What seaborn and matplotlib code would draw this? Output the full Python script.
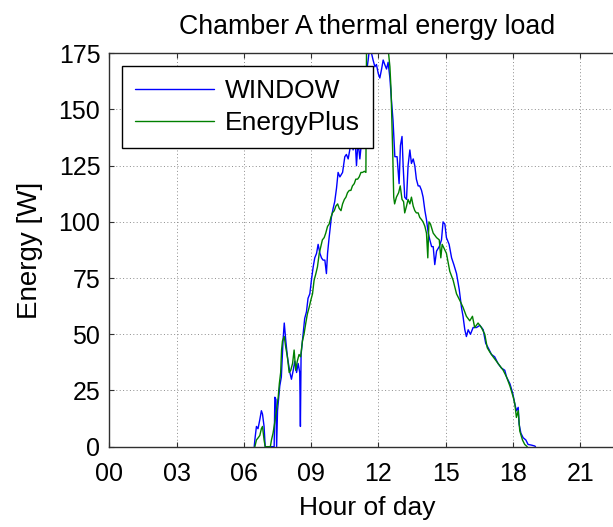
import numpy as np
import pandas as pd
import matplotlib
matplotlib.use("Agg")
import matplotlib.pyplot as plt
import seaborn as sns

# ---- data ----
window_hour = [6.46, 6.50, 6.56, 6.63, 6.71, 6.78, 6.83, 6.90, 6.95, 7.35, 7.38, 7.43, 7.46, 7.50,
               7.60, 7.67, 7.75, 7.80, 7.87, 7.94, 8.05, 8.12, 8.20, 8.27, 8.35, 8.42, 8.49, 8.52,
               8.55, 8.64, 8.71, 8.79, 8.86, 8.94, 9.01, 9.09, 9.16, 9.24, 9.31, 9.39, 9.46, 9.53,
               9.61, 9.68, 9.73, 9.80, 9.90, 9.98, 10.05, 10.13, 10.20, 10.28, 10.40, 10.50, 10.57,
               10.65, 10.72, 10.80, 10.87, 10.95, 11.02, 11.09, 11.17, 11.24, 11.32, 11.39, 11.46,
               11.54, 11.61, 11.69, 11.76, 11.84, 11.91, 11.99, 12.06, 12.14, 12.21, 12.28, 12.36,
               12.43, 12.51, 12.58, 12.65, 12.73, 12.83, 12.92, 12.98, 13.05, 13.10, 13.17, 13.25,
               13.32, 13.40, 13.47, 13.55, 13.62, 13.69, 13.77, 13.84, 13.92, 13.99, 14.07, 14.14,
               14.22, 14.29, 14.37, 14.44, 14.51, 14.59, 14.71, 14.81, 14.88, 14.96, 15.03, 15.15,
               15.26, 15.36, 15.48, 15.60, 15.70, 15.77, 15.85, 15.92, 16.00, 16.10, 16.22, 16.37,
               16.52, 16.67, 16.78, 16.89, 17.04, 17.18, 17.33, 17.48, 17.63, 17.71, 17.86, 17.98,
               18.08, 18.15, 18.23, 18.27, 18.35, 18.45, 18.57, 18.67, 18.82, 18.97, 19.00]
window_load = [0, 4, 9, 8, 12, 16, 14.5, 9, 0, 0, 22, 21, 0, 16,
               27, 31, 48, 55, 47, 40, 33, 30, 34, 38, 33, 37, 33, 9,
               41, 50, 57, 60, 66, 68, 74, 80, 84, 86, 90, 86, 84, 83,
               83, 77, 86, 93, 102, 106, 109, 115, 122, 120, 122, 129, 130,
               128, 132, 138, 132, 139, 125, 136, 128, 135, 144, 151, 166,
               172, 178, 175, 172, 169, 170, 166, 164, 168, 172, 170, 168,
               171, 164, 154, 145, 129, 129, 117, 134, 138, 125, 111, 110,
               125, 132, 126, 128, 125, 119, 116, 116, 114, 111, 105, 101,
               95, 92, 89, 89, 81, 87, 89, 92, 100, 99, 93, 90,
               84, 81, 77, 70, 62, 58, 52, 49, 52, 50, 53, 53,
               54, 52, 46, 44, 41, 40, 37, 35, 34, 31, 28, 24,
               19, 16, 17.5, 10, 6, 4, 3, 1, 0.7, 0.3, 0]

eplus_hour = [6.49, 6.56, 6.64, 6.71, 6.78, 6.83, 6.90, 6.95, 7.18, 7.23, 7.30, 7.38, 7.45, 7.53,
              7.58, 7.64, 7.68, 7.72, 7.80, 7.87, 7.94, 8.02, 8.09, 8.17, 8.24, 8.31, 8.38, 8.46,
              8.53, 8.61, 8.68, 8.76, 8.83, 8.91, 8.98, 9.06, 9.13, 9.21, 9.28, 9.36, 9.43, 9.50,
              9.58, 9.65, 9.73, 9.80, 9.88, 9.95, 10.03, 10.10, 10.18, 10.25, 10.33, 10.40, 10.48,
              10.55, 10.62, 10.70, 10.77, 10.84, 10.92, 10.99, 11.07, 11.14, 11.22, 11.29, 11.37,
              11.44, 11.47, 12.40, 12.45, 12.51, 12.56, 12.60, 12.64, 12.68, 12.72, 12.80, 12.90,
              12.97, 13.05, 13.12, 13.17, 13.25, 13.32, 13.40, 13.47, 13.55, 13.62, 13.69, 13.77,
              13.84, 13.92, 13.99, 14.07, 14.14, 14.20, 14.25, 14.32, 14.44, 14.59, 14.71, 14.78,
              14.84, 15.03, 15.18, 15.33, 15.48, 15.63, 15.77, 15.92, 16.07, 16.19, 16.29, 16.44,
              16.59, 16.74, 16.85, 16.97, 17.11, 17.26, 17.41, 17.56, 17.71, 17.86, 18.01, 18.08,
              18.15, 18.23, 18.30, 18.42, 18.52, 18.63]
eplus_load = [0, 3, 4, 5, 8, 9, 3, 0, 0, 3, 6, 11, 16, 22,
              28, 33, 43, 47, 49, 44, 40, 33, 34, 37, 43, 34, 38, 41,
              40, 47, 50, 55, 59, 62, 65, 68, 74, 77, 80, 86, 89, 92,
              93, 95, 98, 99, 102, 104, 105, 107, 108, 106, 105, 108, 110,
              111, 113, 114, 114, 116, 117, 119, 119, 120, 122, 122, 122.5,
              122, 182, 182, 175, 169, 159, 144, 129, 111, 108, 111, 113,
              116, 110, 109, 104, 107, 110, 108, 111, 107, 105, 104, 104,
              102, 101, 100, 98, 95, 84, 100, 99, 95, 93, 92, 84,
              90, 86, 78, 74, 68, 65, 62, 58, 56, 58, 53, 55,
              53, 50, 44, 42, 40, 38, 36, 34, 31, 27, 22, 19,
              13, 16, 7, 3, 1, 0]

series_names = ["WINDOW", "EnergyPlus"]
x_ticks = [0, 3, 6, 9, 12, 15, 18, 21]
x_tick_labels = ["00", "03", "06", "09", "12", "15", "18", "21"]
y_ticks = [0, 25, 50, 75, 100, 125, 150, 175]

df = pd.concat([
    pd.DataFrame({"hour": window_hour, "load": window_load, "series": series_names[0]}),
    pd.DataFrame({"hour": eplus_hour, "load": eplus_load, "series": series_names[1]}),
], ignore_index=True)

sns.set_theme(style="ticks")
plt.rcParams["font.family"] = ["Liberation Sans", "DejaVu Sans"]
plt.rcParams["text.color"] = "black"
plt.rcParams["axes.labelcolor"] = "black"
plt.rcParams["xtick.labelcolor"] = "black"
plt.rcParams["ytick.labelcolor"] = "black"

fig = plt.figure(figsize=(6.13, 5.27), dpi=100)
# axes extends past the right edge of the figure (as in the cropped reference)
ax = fig.add_axes([0.1783, 0.1524, 0.8416, 0.7465])

sns.lineplot(data=df, x="hour", y="load", hue="series", hue_order=series_names,
             palette={"WINDOW": "#0000ff", "EnergyPlus": "#008000"},
             estimator=None, sort=False, linewidth=1.0, ax=ax, legend=True)

ax.set_xlim(0, 23)
ax.set_ylim(0, 175)
ax.set_xticks(x_ticks)
ax.set_xticklabels(x_tick_labels)
ax.set_yticks(y_ticks)
ax.grid(True, linestyle=(0, (1, 2.5)), color="#8c8c8c", linewidth=0.7)
ax.set_axisbelow(True)
for s in ax.spines.values():
    s.set_color("#303030")
    s.set_linewidth(1.0)
ax.tick_params(direction="in", top=True, right=True, length=3.6, width=0.8,
               colors="#303030", labelcolor="black", labelsize=18)
ax.tick_params(axis="x", pad=11)
ax.tick_params(axis="y", pad=6.5)

ax.set_title("Chamber A thermal energy load", fontsize=19.3, pad=14, color="black")
ax.set_xlabel("Hour of day", fontsize=19, labelpad=7.5)
ax.set_ylabel("Energy [W]", fontsize=20, labelpad=11)

leg = ax.legend(loc="upper left", bbox_to_anchor=(0.0246, 0.9677), borderaxespad=0,
                fontsize=19, frameon=True, fancybox=False, framealpha=1,
                edgecolor="black", handlelength=3.0, handletextpad=0.4,
                borderpad=0.5, labelspacing=0.3, title=None)
leg.get_frame().set_linewidth(1.0)
for t in leg.get_texts():
    t.set_color("black")

fig.savefig("out.png", dpi=100)
